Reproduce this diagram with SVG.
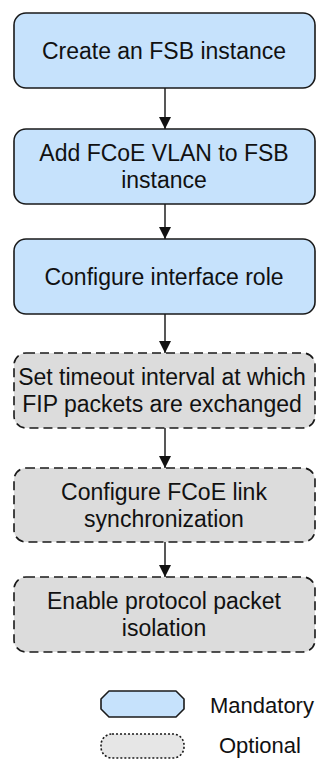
<svg xmlns="http://www.w3.org/2000/svg" width="320" height="760" viewBox="0 0 320 760">
  <defs>
    <style>
      .mand { fill: #C6E2FC; stroke: #1a1a1a; stroke-width: 1.6; }
      .opt { fill: #DCDCDC; stroke: #1a1a1a; stroke-width: 1.6; stroke-dasharray: 9 5; }
      .t { font-family: "Liberation Sans", Arial, sans-serif; font-size: 23px; fill: #111; text-anchor: middle; }
      .lg { font-family: "Liberation Sans", Arial, sans-serif; font-size: 22px; fill: #111; }
      .conn line { stroke: #111; stroke-width: 1.4; }
    </style>
    <marker id="arr" viewBox="0 0 10 10" refX="10" refY="5" markerWidth="13" markerHeight="12" markerUnits="userSpaceOnUse" orient="auto">
      <path d="M0,0 L10,5 L0,10 z" fill="#111"/>
    </marker>
  </defs>
  <rect width="320" height="760" fill="#fff"/>

  <g id="connectors" class="conn">
    <line x1="165" y1="88" x2="165" y2="129" marker-end="url(#arr)"/>
    <line x1="165" y1="204" x2="165" y2="239" marker-end="url(#arr)"/>
    <line x1="165" y1="314" x2="165" y2="353" marker-end="url(#arr)"/>
    <line x1="165" y1="428" x2="165" y2="468" marker-end="url(#arr)"/>
    <line x1="165" y1="542" x2="165" y2="577" marker-end="url(#arr)"/>
  </g>

  <g id="node1">
    <rect class="mand" x="14" y="13" width="301" height="75" rx="12"/>
    <text class="t" x="164" y="58.5">Create an FSB instance</text>
  </g>
  <g id="node2">
    <rect class="mand" x="14" y="129" width="301" height="75" rx="12"/>
    <text class="t" x="164" y="161">Add FCoE VLAN to FSB</text>
    <text class="t" x="164" y="188">instance</text>
  </g>
  <g id="node3">
    <rect class="mand" x="14" y="239" width="301" height="75" rx="12"/>
    <text class="t" x="164" y="284.5">Configure interface role</text>
  </g>
  <g id="node4">
    <rect class="opt" x="14" y="353" width="301" height="75" rx="12"/>
    <text class="t" x="162" y="385">Set timeout interval at which</text>
    <text class="t" x="162" y="412">FIP packets are exchanged</text>
  </g>
  <g id="node5">
    <rect class="opt" x="14" y="468" width="301" height="74" rx="12"/>
    <text class="t" x="164" y="499.5">Configure FCoE link</text>
    <text class="t" x="164" y="526.5">synchronization</text>
  </g>
  <g id="node6">
    <rect class="opt" x="14" y="577" width="301" height="75" rx="12"/>
    <text class="t" x="164" y="609">Enable protocol packet</text>
    <text class="t" x="164" y="636">isolation</text>
  </g>

  <g id="legend-mandatory">
    <path d="M109,691 L176,691 L184,699 L184,709 L176,717 L109,717 L101,709 L101,699 Z" fill="#C6E2FC" stroke="#1a1a1a" stroke-width="1.6" stroke-linejoin="round"/>
    <text class="lg" x="210" y="713">Mandatory</text>
  </g>
  <g id="legend-optional">
    <rect x="101" y="734" width="83" height="24" rx="11" fill="#E6E6E6" stroke="#1a1a1a" stroke-width="1.6" stroke-dasharray="2 2"/>
    <text class="lg" x="219" y="753">Optional</text>
  </g>
</svg>
